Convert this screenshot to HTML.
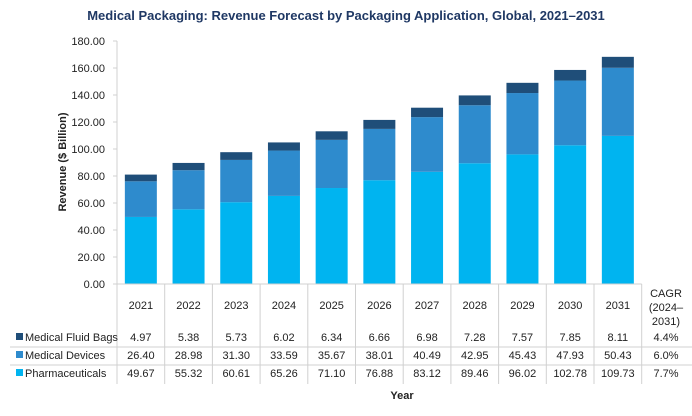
<!DOCTYPE html>
<html><head><meta charset="utf-8"><style>
body{margin:0;background:#fff;font-family:"Liberation Sans",sans-serif;}
svg text{font-family:"Liberation Sans",sans-serif;}
</style></head><body>
<svg width="692" height="411">
<text x="346" y="20" text-anchor="middle" font-size="13" font-weight="bold" fill="#1f3864">Medical Packaging: Revenue Forecast by Packaging Application, Global, 2021–2031</text>
<text transform="translate(66,162) rotate(-90)" text-anchor="middle" font-size="11" font-weight="bold" fill="#222">Revenue ($ Billion)</text>
<text x="402" y="399" text-anchor="middle" font-size="11" font-weight="bold" fill="#222">Year</text>
<g id="g"></g>
</svg>
<script>
const years=["2021","2022","2023","2024","2025","2026","2027","2028","2029","2030","2031"];
const fluid=[4.97,5.38,5.73,6.02,6.34,6.66,6.98,7.28,7.57,7.85,8.11];
const devices=[26.40,28.98,31.30,33.59,35.67,38.01,40.49,42.95,45.43,47.93,50.43];
const pharma=[49.67,55.32,60.61,65.26,71.10,76.88,83.12,89.46,96.02,102.78,109.73];
const cagr=["4.4%","6.0%","7.7%"];
const yTicks=[0,20,40,60,80,100,120,140,160,180];
const NS="http://www.w3.org/2000/svg";
const g=document.getElementById('g');
const x0=117,cw=47.7,yTop=41,yBot=284,ymax=180;
const y=v=>yBot-(v/ymax)*(yBot-yTop);
const xc=i=>x0+cw*(i+0.5);
function el(t,a,txt){const e=document.createElementNS(NS,t);for(const k in a)e.setAttribute(k,a[k]);if(txt!=null)e.textContent=txt;g.appendChild(e);return e;}
// axis
let ax=el('line',{x1:x0,y1:yTop,x2:x0,y2:yBot,stroke:'#d0d0d0'});


yTicks.forEach(t=>{
 const tl=el('text',{x:105,y:y(t)+4,'text-anchor':'end','font-size':11,fill:'#222'},t.toFixed(2));
 
 
 el('line',{x1:x0-4,y1:y(t),x2:x0,y2:y(t),stroke:'#d0d0d0'});
});
const bw=32;
const cols=["#00b4f0","#2e8bcd","#1f4e79"];
years.forEach((yr,i)=>{
 let base=0;
 [pharma[i],devices[i],fluid[i]].forEach((v,s)=>{
  const r=el('rect',{x:xc(i)-bw/2,y:y(base+v),width:bw,height:y(base)-y(base+v),fill:cols[s]});
  
  
  base+=v;
 });
});
el('line',{x1:x0,y1:yBot,x2:x0+cw*11,y2:yBot,stroke:'#d0d0d0'});
// table
for(let k=0;k<=11;k++){el('line',{x1:x0+cw*k,y1:yBot,x2:x0+cw*k,y2:384,stroke:'#d0d0d0'});}
el('line',{x1:10,y1:347,x2:692,y2:347,stroke:'#d0d0d0'});
el('line',{x1:10,y1:365,x2:692,y2:365,stroke:'#d0d0d0'});
years.forEach((yr,i)=>{
 const t=el('text',{x:xc(i),y:309,'text-anchor':'middle','font-size':11,fill:'#222'},yr);
 
 
});
const rows=[["Medical Fluid Bags",fluid,341,"#1f4e79"],["Medical Devices",devices,359,"#2e8bcd"],["Pharmaceuticals",pharma,377,"#00b4f0"]];
rows.forEach((r,ri)=>{
 el('rect',{x:16,y:r[2]-8,width:7,height:7,fill:r[3]});
 const lab=el('text',{x:25,y:r[2],'font-size':11,fill:'#222'},r[0]);
 
 
 r[1].forEach((v,i)=>{
  const t=el('text',{x:xc(i),y:r[2],'text-anchor':'middle','font-size':11,fill:'#222'},v.toFixed(2));
  
  
 });
 const c=el('text',{x:666,y:r[2],'text-anchor':'middle','font-size':11,fill:'#222'},cagr[ri]);
 
 
});
["CAGR","(2024–","2031)"].forEach((s,k)=>{
 const t=el('text',{x:666,y:297+k*14,'text-anchor':'middle','font-size':11,fill:'#222'},s);
 
 
});
</script>
</body></html>
